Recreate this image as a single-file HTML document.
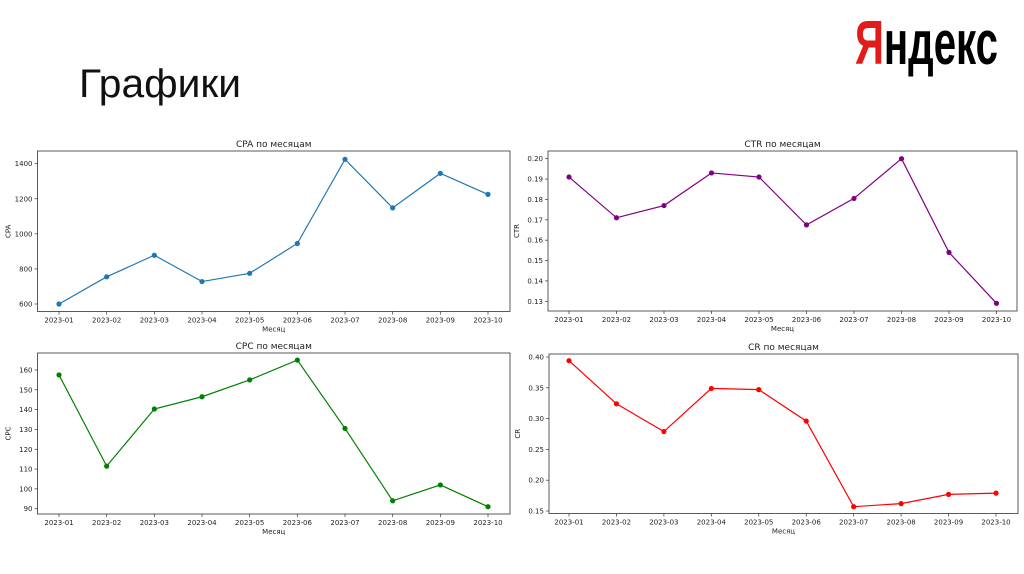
<!DOCTYPE html>
<html><head><meta charset="utf-8"><style>
html,body{margin:0;padding:0;background:#fff;}
svg{display:block;}
text{font-family:"DejaVu Sans","Liberation Sans",sans-serif;fill:#222;}
</style></head><body>
<svg id="s" width="1024" height="574" viewBox="0 0 1024 574" xmlns="http://www.w3.org/2000/svg">
<text x="79" y="97" font-size="40" textLength="162" lengthAdjust="spacingAndGlyphs" style="font-family:'Liberation Sans','DejaVu Sans',sans-serif;fill:#111">Графики</text>
<g>
<text x="855" y="64" font-size="62" font-weight="bold" textLength="143" lengthAdjust="spacingAndGlyphs" style="font-family:'Liberation Sans',sans-serif"><tspan fill="#e21b1b" style="fill:#e21b1b">Я</tspan><tspan style="fill:#000">ндекс</tspan></text>
</g>
</svg>
<script>
const months = ['2023-01','2023-02','2023-03','2023-04','2023-05','2023-06','2023-07','2023-08','2023-09','2023-10'];
const cpaValues = [600, 755, 878, 728, 775, 945, 1425, 1148, 1345, 1225];
const ctrValues = [0.191, 0.171, 0.177, 0.193, 0.191, 0.1675, 0.1805, 0.200, 0.154, 0.129];
const cpcValues = [157.5, 111.5, 140.3, 146.5, 155, 165, 130.5, 94, 102, 91];
const crValues = [0.394, 0.324, 0.279, 0.349, 0.347, 0.296, 0.157, 0.162, 0.177, 0.179];
const cpaTicks = [600, 800, 1000, 1200, 1400];
const ctrTicks = [0.13, 0.14, 0.15, 0.16, 0.17, 0.18, 0.19, 0.20];
const cpcTicks = [90, 100, 110, 120, 130, 140, 150, 160];
const crTicks = [0.15, 0.20, 0.25, 0.30, 0.35, 0.40];

const NS = 'http://www.w3.org/2000/svg';
const svg = document.getElementById('s');
function mk(tag, attrs, parent){const e=document.createElementNS(NS,tag);for(const k in attrs)e.setAttribute(k,attrs[k]);parent.appendChild(e);return e;}

function chart(cfg){
  const g = mk('g',{},svg);
  
  
  const {L,R,T,B,x0,x1,yTop,yTopV,yBot,yBotV} = cfg;
  const xs = i => x0 + (x1-x0)*i/(months.length-1);
  const ys = v => yBot + (v-yBotV)*(yTop-yBot)/(yTopV-yBotV);
  const box = mk('rect',{x:L,y:T,width:R-L,height:B-T,fill:'none',stroke:'#333','stroke-width':0.8},g);
  
  
  const tt = mk('text',{x:(L+R)/2,y:T-4,'font-size':9,'text-anchor':'middle'},g);
  tt.textContent = cfg.title;
  
  
  months.forEach((m,i)=>{
    const x = xs(i);
    mk('line',{x1:x,x2:x,y1:B,y2:B+3,stroke:'#333','stroke-width':0.7},g);
    const t = mk('text',{x:x,y:B+11,'font-size':7,'text-anchor':'middle'},g);
    t.textContent = m;
    
    
  });
  cfg.ticks.forEach(v=>{
    const y = ys(v);
    mk('line',{x1:L-3,x2:L,y1:y,y2:y,stroke:'#333','stroke-width':0.7},g);
    const t = mk('text',{x:L-5,y:y+2.5,'font-size':7,'text-anchor':'end'},g);
    t.textContent = cfg.fmt(v);
    
    
  });
  const xl = mk('text',{x:(L+R)/2,y:B+20,'font-size':7,'text-anchor':'middle'},g);
  xl.textContent = 'Месяц';
  
  
  const yx = L - (cfg.fmt(cfg.ticks[0]).length>3?29:27);
  const yl = mk('text',{x:yx,y:(T+B)/2,'font-size':7,'text-anchor':'middle',transform:`rotate(-90 ${yx} ${(T+B)/2})`},g);
  yl.textContent = cfg.ylabel;
  
  
  const pts = cfg.values.map((v,i)=>xs(i)+','+ys(v)).join(' ');
  const pl = mk('polyline',{points:pts,fill:'none',stroke:cfg.color,'stroke-width':1.2},g);
  
  
  cfg.values.forEach((v,i)=>{
    const c = mk('circle',{cx:xs(i),cy:ys(v),r:2.6,fill:cfg.color},g);
    
    
  });
}
chart({name:'cpa',title:'CPA по месяцам',ylabel:'CPA',color:'#1f77b4',values:cpaValues,ticks:cpaTicks,fmt:v=>String(v),
  L:37.5,R:510,T:151,B:311.5,x0:59,x1:488,yTop:163.7,yTopV:1400,yBot:304,yBotV:600});
chart({name:'ctr',title:'CTR по месяцам',ylabel:'CTR',color:'#800080',values:ctrValues,ticks:ctrTicks,fmt:v=>v.toFixed(2),
  L:548,R:1017,T:151,B:311,x0:569,x1:996.5,yTop:158.7,yTopV:0.20,yBot:301.3,yBotV:0.13});
chart({name:'cpc',title:'CPC по месяцам',ylabel:'CPC',color:'#008000',values:cpcValues,ticks:cpcTicks,fmt:v=>String(v),
  L:37.5,R:510,T:353,B:514,x0:59,x1:488,yTop:370,yTopV:160,yBot:508.7,yBotV:90});
chart({name:'cr',title:'CR по месяцам',ylabel:'CR',color:'#ff0000',values:crValues,ticks:crTicks,fmt:v=>v.toFixed(2),
  L:549,R:1018,T:354,B:513.5,x0:569,x1:996,yTop:357,yTopV:0.40,yBot:511,yBotV:0.15});
</script>
</body></html>
